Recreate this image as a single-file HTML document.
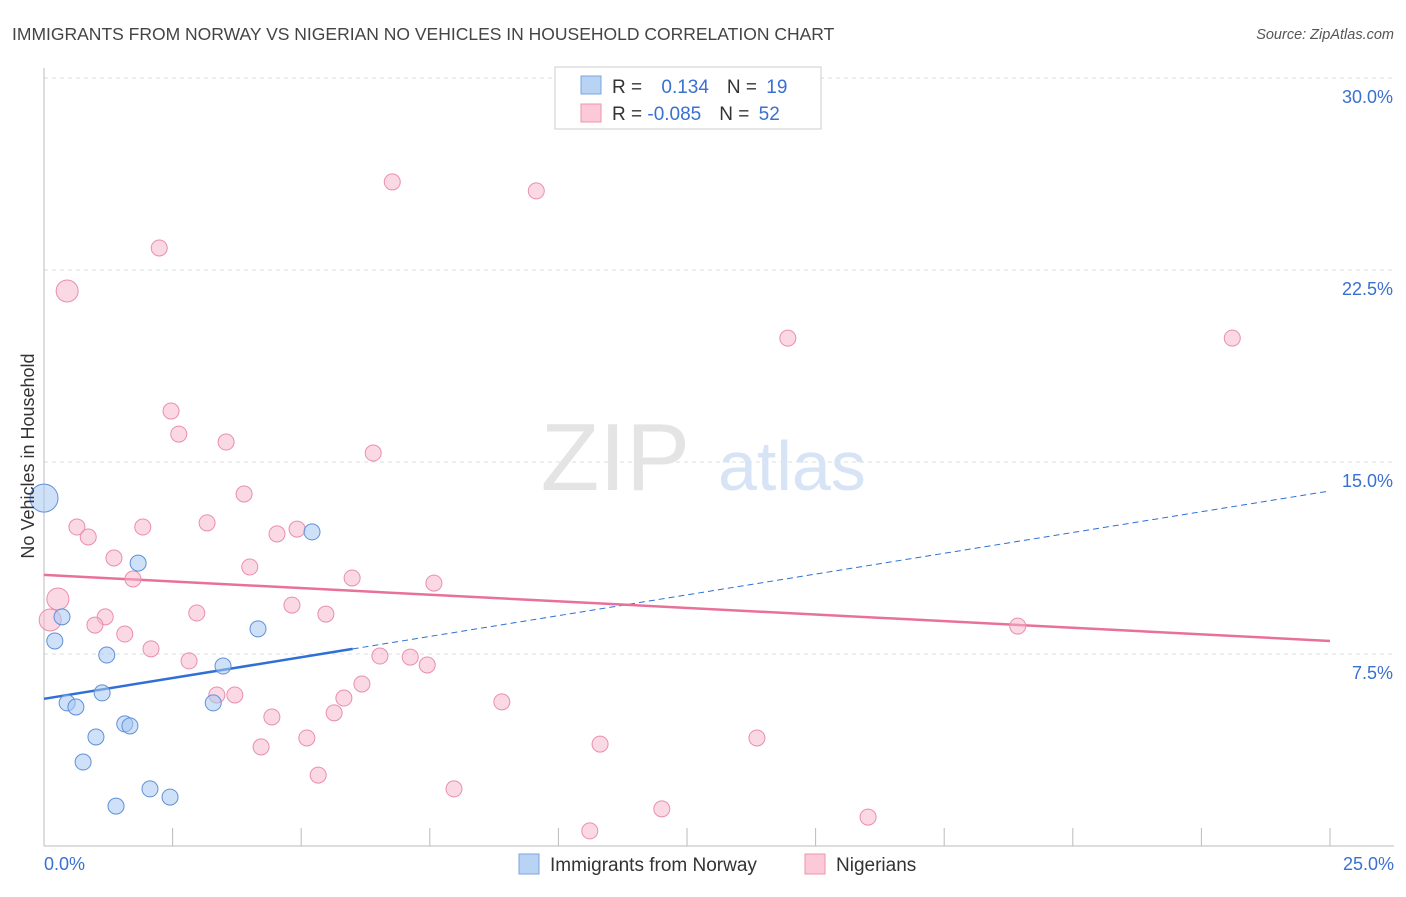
<!DOCTYPE html>
<html><head><meta charset="utf-8"><style>
body{margin:0;background:#fff;font-family:"Liberation Sans",sans-serif}
svg text{font-family:"Liberation Sans",sans-serif}
</style></head><body>
<svg width="1406" height="892" viewBox="0 0 1406 892">
<text x="12" y="40" font-size="17.5" fill="#444">IMMIGRANTS FROM NORWAY VS NIGERIAN NO VEHICLES IN HOUSEHOLD CORRELATION CHART</text>
<text x="1394" y="39" font-size="14.5" fill="#555" font-style="italic" text-anchor="end">Source: ZipAtlas.com</text>
<g id="grid"></g>
<g id="axes"></g>
<text x="690" y="490" font-size="96" fill="#e4e4e4" text-anchor="end" font-family="Liberation Serif">ZIP</text>
<text x="718" y="490" font-size="70" fill="#d6e4f6">atlas</text>
<g id="lines"></g>
<g id="pts"></g>
<text transform="translate(34,456) rotate(-90)" font-size="18" fill="#333" text-anchor="middle">No Vehicles in Household</text>
<g>
<rect x="555" y="67" width="266" height="62" fill="#fff" stroke="#ccc"/>
<rect x="581" y="76" width="20" height="18" fill="#b9d3f5" stroke="#7aa6e0"/>
<rect x="581" y="104" width="20" height="18" fill="#fcc9d8" stroke="#eb95ae"/>
<text x="612" y="93" font-size="19" fill="#333">R = <tspan fill="#3a70d0" dx="14">0.134</tspan><tspan dx="18" fill="#333">N = </tspan><tspan fill="#3a70d0" dx="4">19</tspan></text>
<text x="612" y="120" font-size="19" fill="#333">R = <tspan fill="#3a70d0">-0.085</tspan><tspan dx="18" fill="#333">N = </tspan><tspan fill="#3a70d0" dx="4">52</tspan></text>
</g>
<g>
<rect x="519" y="854" width="20" height="20" fill="#b9d3f5" stroke="#7aa6e0"/>
<text x="550" y="871" font-size="19" fill="#333">Immigrants from Norway</text>
<rect x="805" y="854" width="20" height="20" fill="#fcc9d8" stroke="#eb95ae"/>
<text x="836" y="871" font-size="19" fill="#333">Nigerians</text>
</g>
</svg>
<script>
const blueX=[0,0.35,0.21,0.45,0.62,1.01,0.76,1.13,1.22,1.40,1.57,1.67,2.06,2.45,1.83,3.29,3.48,4.16,5.21];
const blueY=[13.59,8.95,8.01,5.59,5.43,4.26,3.28,5.98,7.46,1.56,4.77,4.69,2.23,1.91,11.05,5.59,7.03,8.48,12.27];
const blueR=[14,8,8,8,8,8,8,8,8,8,8,8,8,8,8,8,8,8,8];
const pinkX=[0.45,2.24,6.77,9.57,14.46,23.10,2.47,2.62,3.54,6.40,3.89,0.64,0.86,1.92,3.17,4.53,4.92,1.36,4.00,1.73,5.99,7.58,0.27,0.12,1.19,0.99,2.97,4.82,5.48,1.57,2.08,2.82,6.53,7.12,7.45,6.18,3.36,3.71,5.83,5.64,4.43,8.90,4.22,5.11,10.81,13.86,5.33,7.97,12.01,10.61,16.02,18.93];
const pinkY=[21.68,23.36,25.94,25.59,19.84,19.84,16.99,16.09,15.78,15.35,13.75,12.46,12.07,12.46,12.62,12.19,12.38,11.25,10.90,10.43,10.47,10.27,9.65,8.83,8.95,8.63,9.10,9.41,9.06,8.28,7.70,7.23,7.42,7.38,7.07,6.33,5.90,5.90,5.78,5.20,5.04,5.63,3.87,4.22,3.98,4.22,2.77,2.23,1.45,0.59,1.13,8.59];
const pinkBig=[0,22,23];
const blueTrend=[5.75,13.87];
const pinkTrend=[10.59,8.01];
const yTicks=[7.5,15,22.5,30];
const xTickLabels=["0.0%","25.0%"];
const NS="http://www.w3.org/2000/svg";
function sx(v){return 44+v/25*1286;}
function sy(v){return 846-v/7.5*192;}
function mk(tag,attrs,parent){const e=document.createElementNS(NS,tag);for(const k in attrs)e.setAttribute(k,attrs[k]);document.getElementById(parent).appendChild(e);return e;}
yTicks.forEach(t=>{
 const l=mk('line',{x1:44,x2:1394,y1:sy(t),y2:sy(t),stroke:'#ddd','stroke-dasharray':'4,4'},'grid');
 
 
 const tx=mk('text',{x:1393,y:sy(t)+25,'font-size':18,fill:'#3a70d0','text-anchor':'end'},'grid');
 tx.textContent=t.toFixed(1)+'%';
 
 
});
mk('line',{x1:44,x2:44,y1:68,y2:846,stroke:'#bbb'},'axes');
mk('line',{x1:44,x2:1394,y1:846,y2:846,stroke:'#bbb'},'axes');
for(let i=0;i<=10;i++){const t=mk('line',{x1:sx(i*2.5),x2:sx(i*2.5),y1:828,y2:846,stroke:'#bbb'},'axes');
 
 }
[[44,'start'],[1394,'end']].forEach((p,i)=>{const t=mk('text',{x:p[0],y:870,'font-size':18,fill:'#3a70d0','text-anchor':p[1]},'axes');t.textContent=xTickLabels[i];
 
 });
const bx=6.0, by=blueTrend[0]+(blueTrend[1]-blueTrend[0])*bx/25;
let e=mk('line',{x1:sx(0),y1:sy(blueTrend[0]),x2:sx(bx),y2:sy(by),stroke:'#2f6fd6','stroke-width':2.5},'lines');


e=mk('line',{x1:sx(bx),y1:sy(by),x2:sx(25),y2:sy(blueTrend[1]),stroke:'#2f6fd6','stroke-width':1,'stroke-dasharray':'6,4'},'lines');


e=mk('line',{x1:sx(0),y1:sy(pinkTrend[0]),x2:sx(25),y2:sy(pinkTrend[1]),stroke:'#e8719a','stroke-width':2.5},'lines');


pinkX.forEach((x,i)=>{const c=mk('circle',{cx:sx(x),cy:sy(pinkY[i]),r:pinkBig.includes(i)?11:8,fill:'rgba(248,180,202,0.5)',stroke:'#eb8eab','stroke-width':1},'pts');
 
 });
blueX.forEach((x,i)=>{const c=mk('circle',{cx:sx(x),cy:sy(blueY[i]),r:blueR[i],fill:'rgba(168,200,242,0.55)',stroke:'#5f90d8','stroke-width':1},'pts');
 
 });
</script>
</body></html>
